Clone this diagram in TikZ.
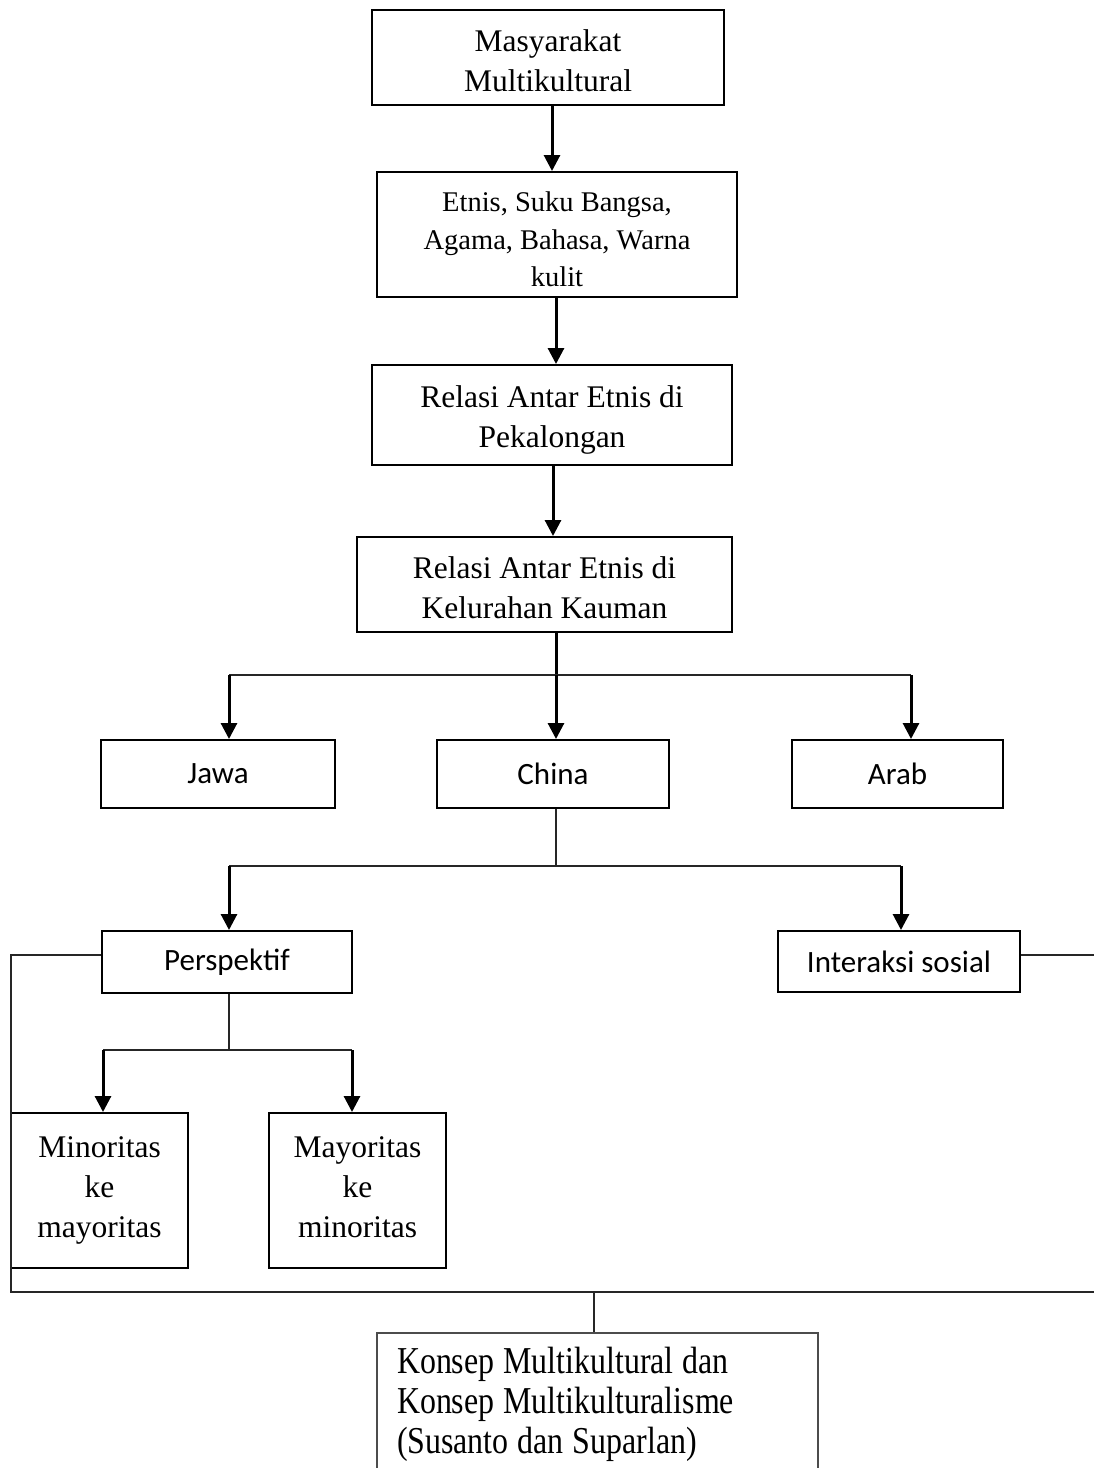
\documentclass[tikz,border=0pt]{standalone}
\usepackage{fontspec}
\setmainfont{Liberation Serif}
\newfontfamily\sansf{Carlito}
\newfontfamily\condf[FakeStretch=0.84]{Liberation Serif}
\newcommand\topfill[1]{\rule{0pt}{#1pt}}
\newcommand\botfill[1]{\rule[-#1pt]{0pt}{#1pt}}
\usetikzlibrary{arrows.meta}
\begin{document}
\begin{tikzpicture}[x=1pt,y=-1pt,
  box/.style={draw=black,line width=2pt,inner sep=0pt,align=center},
  bigtxt/.style={font=\fontsize{31.5}{40}\selectfont},
  midtxt/.style={font=\fontsize{28.5}{37.5}\selectfont},
  sanstxt/.style={font=\sansf\fontsize{31}{36}\selectfont},
  arr/.style={line width=3pt,-{Triangle[length=16pt,width=16pt]}},
  thin/.style={draw=black!85,line width=1.5pt},
]
\useasboundingbox (0,0) rectangle (1094,1468);
% boxes
\node[box,bigtxt,minimum width=352pt,minimum height=95pt] (b1) at (548,57.5) {\topfill{29}Masyarakat\\Multikultural};
\node[box,midtxt,minimum width=360pt,minimum height=125pt] (b2) at (557,234.5) {\topfill{29.5}Etnis, Suku Bangsa,\\Agama, Bahasa, Warna\\kulit};
\node[box,bigtxt,minimum width=360pt,minimum height=100pt] (b3) at (552,415) {\topfill{31.5}Relasi Antar Etnis di\\Pekalongan};
\node[box,bigtxt,minimum width=375pt,minimum height=95pt] (b4) at (544.5,584.5) {\topfill{28}Relasi Antar Etnis di\\Kelurahan Kauman};
\node[box,sanstxt,minimum width=234pt,minimum height=68pt] (jawa) at (218,774) {Jawa};
\node[box,sanstxt,minimum width=232pt,minimum height=68pt] (china) at (553,774) {China};
\node[box,sanstxt,minimum width=211pt,minimum height=68pt] (arab) at (897.5,774) {Arab};
\node[box,sanstxt,minimum width=250pt,minimum height=62pt] (persp) at (227,962) {Perspektif};
\node[box,sanstxt,minimum width=242pt,minimum height=61pt] (inter) at (899,961.5) {Interaksi sosial};
\node[box,bigtxt,minimum width=177pt,minimum height=155pt] (mino) at (99.5,1190.5) {Minoritas\\ke\\mayoritas};
\node[box,bigtxt,minimum width=177pt,minimum height=155pt] (mayo) at (357.5,1190.5) {Mayoritas\\ke\\minoritas\botfill{7}};
\node[draw=black!70,line width=1.5pt,inner xsep=20pt,inner ysep=0pt,minimum height=138pt,
      text width=401pt,align=left,font=\condf\fontsize{38}{40}\selectfont] (konsep) at (597.5,1402)
  {\spaceskip=9pt\relax\topfill{32}Konsep Multikultural dan\\Konsep Multikulturalisme\\(Susanto dan Suparlan)};
% main chain
\draw[arr] (552,105) coordinate (a1) -- (a1 |- b2.north);
\draw[arr] (556,297) coordinate (a2) -- (a2 |- b3.north);
\draw[arr] (553,465) coordinate (a3) -- (a3 |- b4.north);
% branch to ethnic groups
\coordinate (jl) at (229,675);
\coordinate (jc) at (556,675);
\coordinate (jr) at (911,675);
\draw[line width=3pt] (jc |- b4.south) -- (jc);
\draw[thin] (jl) -- (jr);
\draw[arr] (jl) -- (jl |- jawa.north);
\draw[arr] (jc) -- (jc |- china.north);
\draw[arr] (jr) -- (jr |- arab.north);
% branch from China
\coordinate (kc) at (556,866);
\coordinate (kl) at (229,866);
\coordinate (kr) at (901,866);
\draw[thin] (kc |- china.south) -- (kc);
\draw[thin] (kl) -- (kr);
\draw[arr] (kl) -- (kl |- persp.north);
\draw[arr] (kr) -- (kr |- inter.north);
% branch from Perspektif
\coordinate (pc) at (229,1050);
\coordinate (pl) at (103,1050);
\coordinate (pr) at (352,1050);
\draw[thin] (pc |- persp.south) -- (pc);
\draw[thin] (pl) -- (pr);
\draw[arr] (pl) -- (pl |- mino.north);
\draw[arr] (pr) -- (pr |- mayo.north);
% collector lines
\coordinate (cl) at (11,955);
\coordinate (cb) at (11,1292);
\coordinate (cr) at (1094,1292);
\coordinate (ir) at (1094,955);
\coordinate (cm) at (594,1292);
\draw[thin] (persp.west |- cl) -- (cl) -- (cb) -- (cr);
\draw[thin] (inter.east |- ir) -- (ir);
\draw[thin] (cm) -- (cm |- konsep.north);
\end{tikzpicture}
\end{document}
